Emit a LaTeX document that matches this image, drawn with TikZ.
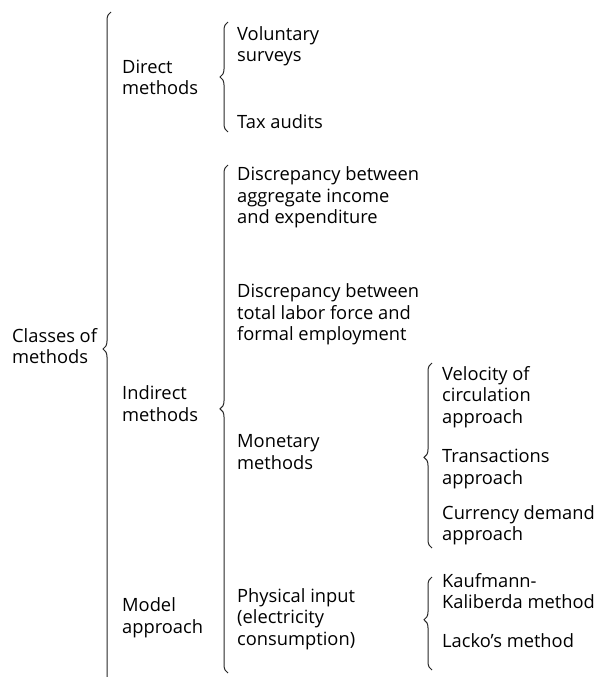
\documentclass[tikz,border=0pt]{standalone}
\usepackage{fontspec}
\setmainfont{Open Sans}
\usetikzlibrary{decorations.pathreplacing}

\tikzset{
  lbl/.style={anchor=west, align=left, inner sep=0pt, font=\fontsize{18.3}{21.5}\selectfont},
  brc/.style={decorate, decoration={brace, amplitude=8pt, aspect=#1}, line width=1pt, black!85},
  brc/.default=0.5
}

\begin{document}
\begin{tikzpicture}[x=1pt, y=-1pt]
	\useasboundingbox (0,0) rectangle (602,677);

	\node[lbl] (classes) at (12,346) {Classes of\\methods};

	\node[lbl] (direct) at (122,77.5) {Direct\\methods};
	\node[lbl] (indirect) at (122,403.5) {Indirect\\methods};
	\node[lbl] (model) at (122,617.5) {Model\\approach};

	\node[lbl] (voluntary) at (237,46) {Voluntary\\surveys};
	\node[lbl] (tax) at (237,122) {Tax audits};
	\node[lbl] (disc1) at (237,197.5) {Discrepancy between\\aggregate income\\and expenditure};
	\node[lbl] (disc2) at (237,314.5) {Discrepancy between\\total labor force and\\formal employment};
	\node[lbl] (monetary) at (237,452) {Monetary\\methods};
	\node[lbl] (physical) at (237,619) {Physical input\\(electricity\\consumption)};

	\node[lbl] (velocity) at (442,397) {Velocity of\\circulation\\approach};
	\node[lbl] (transact) at (442,469) {Transactions\\approach};
	\node[lbl] (currency) at (442,525) {Currency demand\\approach};
	\node[lbl] (kaufmann) at (442,591) {Kaufmann-\\Kaliberda method};
	\node[lbl] (lacko) at (442,641) {Lacko’s method};

	% braces run bottom to top, so the tip points left
	\coordinate (classesB) at (111,686);
	\coordinate (classesT) at (111,12);
	\draw[brc] (classesB) -- (classesT);

	\coordinate (directB) at (228,132);
	\coordinate (directT) at (228,22);
	\draw[brc] (directB) -- (directT);

	\coordinate (indirectB) at (228,673);
	\coordinate (indirectT) at (228,165);
	\draw[brc=0.52] (indirectB) -- (indirectT);

	\coordinate (monetaryB) at (432,548);
	\coordinate (monetaryT) at (432,363);
	\draw[brc=0.49] (monetaryB) -- (monetaryT);

	\coordinate (physicalB) at (432,670);
	\coordinate (physicalT) at (432,577);
	\draw[brc=0.54] (physicalB) -- (physicalT);
\end{tikzpicture}
\end{document}
